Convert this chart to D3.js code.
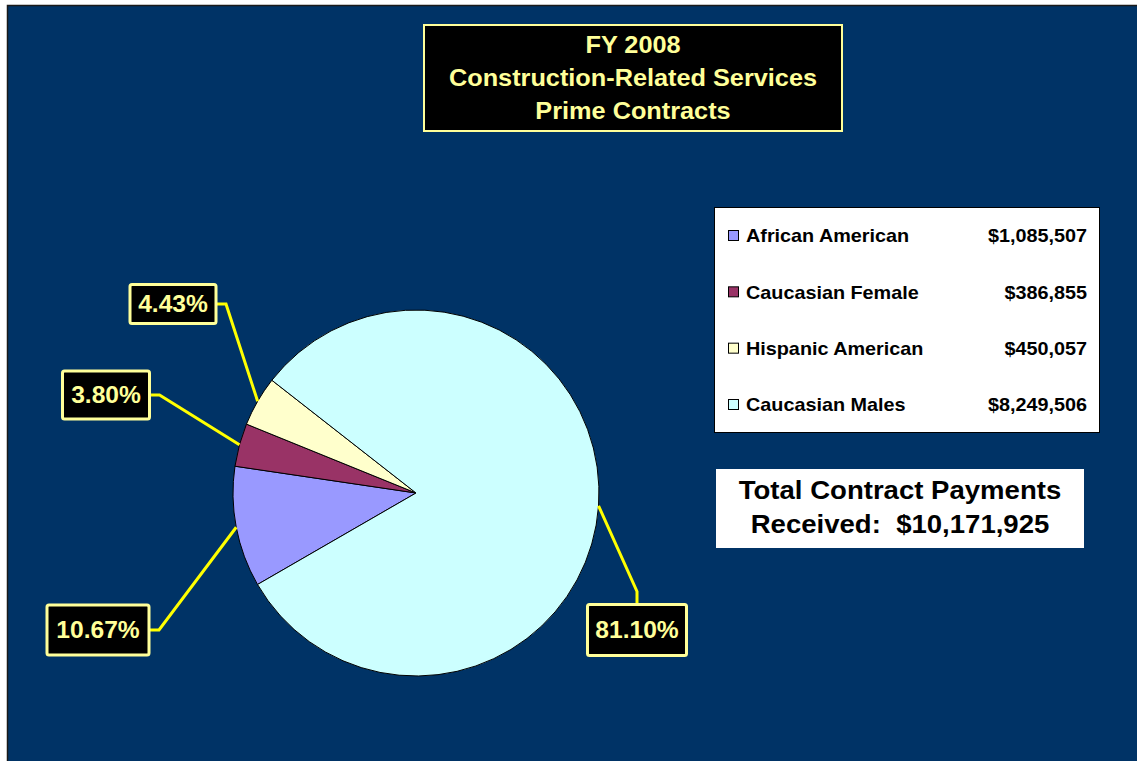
<!DOCTYPE html>
<html>
<head>
<meta charset="utf-8">
<script src="https://cdn.jsdelivr.net/npm/d3@7"></script>
<style>
  body { margin: 0; background: #ffffff; }
  text { font-family: "Liberation Sans", Arial, sans-serif; font-weight: bold; }
</style>
</head>
<body>
<svg id="chart" width="1137" height="761"></svg>
<script>
// data
var categories = ["African American", "Caucasian Female", "Hispanic American", "Caucasian Males"];
var amounts = [1085507, 386855, 450057, 8249506];
var percentLabels = ["10.67%", "3.80%", "4.43%", "81.10%"];
var sliceColors = ["#9999FF", "#993366", "#FFFFCC", "#CCFFFF"];
var titleLines = ["FY 2008", "Construction-Related Services", "Prime Contracts"];
var totalLines = ["Total Contract Payments", "Received:  $10,171,925"];

var svg = d3.select("#chart");
var width = 1137, height = 761;

// the original renders its Arial a bit wider than Liberation Sans
function place(x, y, sx) {
    return `translate(${x},${y}) scale(${sx},1)`;
}

// navy panel
svg.append("rect")
    .attr("x", 7.5).attr("y", 5.5)
    .attr("width", width).attr("height", height)
    .attr("fill", "#003366")
    .attr("stroke", "#1a1a1a")
    .attr("stroke-width", 1.5);

// title box
var title = svg.append("g");
title.append("rect")
    .attr("x", 424).attr("y", 25)
    .attr("width", 418).attr("height", 106)
    .attr("fill", "#000000")
    .attr("stroke", "#FFFF99")
    .attr("stroke-width", 2);
title.selectAll("text")
    .data(titleLines)
    .join("text")
    .attr("transform", (d, i) => place(633, 53 + i * 33, 1.1))
    .attr("text-anchor", "middle")
    .attr("fill", "#FFFF99")
    .style("font-size", "23px")
    .text(d => d);

// pie
var cx = 416, cy = 493, radius = 183;
var startA = 240 * Math.PI / 180;

var pie = d3.pie()
    .sort(null)
    .startAngle(startA)
    .endAngle(startA + 2 * Math.PI);
var arcs = pie(amounts);
var arc = d3.arc().innerRadius(0).outerRadius(radius);

var pieG = svg.append("g").attr("transform", `translate(${cx},${cy})`);
pieG.selectAll("path")
    .data(arcs)
    .join("path")
    .attr("d", arc)
    .attr("fill", (d, i) => sliceColors[i])
    .attr("stroke", "#000000")
    .attr("stroke-width", 1);

// label boxes (layout: box centre relative to pie centre, elbow direction)
var labelLayout = [
    { x: -318, y: 137, w: 102, h: 50, side: "right" },
    { x: -310, y: -98, w: 87, h: 48, side: "right" },
    { x: -243, y: -189, w: 86, h: 39, side: "right" },
    { x: 221, y: 137, w: 99, h: 51, side: "top" }
];

var labelG = pieG.append("g");
arcs.forEach(function(a, i) {
    var lay = labelLayout[i];
    var mid = (a.startAngle + a.endAngle) / 2;
    var px = radius * Math.sin(mid), py = -radius * Math.cos(mid);
    var pts;
    if (lay.side === "right") {
        var ex = lay.x + lay.w / 2;
        pts = [[px, py], [ex + 10, lay.y], [ex, lay.y]];
    } else {
        var ey = lay.y - lay.h / 2;
        pts = [[px, py], [lay.x, ey - 13], [lay.x, ey]];
    }
    labelG.append("path")
        .attr("d", d3.line()(pts))
        .attr("fill", "none")
        .attr("stroke", "#FFFF00")
        .attr("stroke-width", 3);
    labelG.append("rect")
        .attr("x", lay.x - lay.w / 2).attr("y", lay.y - lay.h / 2)
        .attr("width", lay.w).attr("height", lay.h)
        .attr("rx", 2)
        .attr("fill", "#000000")
        .attr("stroke", "#FFFF99")
        .attr("stroke-width", 3);
    labelG.append("text")
        .attr("transform", place(lay.x, lay.y, 1.07))
        .attr("dy", "0.36em")
        .attr("text-anchor", "middle")
        .attr("fill", "#FFFF99")
        .style("font-size", "23px")
        .text(percentLabels[i]);
});

// legend
var legend = svg.append("g");
legend.append("rect")
    .attr("x", 714.5).attr("y", 207.5)
    .attr("width", 385).attr("height", 225)
    .attr("fill", "#ffffff")
    .attr("stroke", "#000000")
    .attr("stroke-width", 1);

var fmt = d3.format("$,");
var rowY = d3.scalePoint().domain(categories).range([236, 405]);
var rows = legend.selectAll(".row")
    .data(categories)
    .join("g")
    .attr("class", "row")
    .attr("transform", d => `translate(0,${rowY(d)})`);
rows.append("rect")
    .attr("x", 728.5).attr("y", -5.5)
    .attr("width", 10).attr("height", 10)
    .attr("fill", (d, i) => sliceColors[i])
    .attr("stroke", "#000000")
    .attr("stroke-width", 1);
rows.append("text")
    .attr("transform", place(746, 0, 1.1))
    .attr("dy", "0.36em")
    .attr("fill", "#000000")
    .style("font-size", "18px")
    .text(d => d);
rows.append("text")
    .attr("transform", place(1087, 0, 1.1))
    .attr("dy", "0.36em")
    .attr("text-anchor", "end")
    .attr("fill", "#000000")
    .style("font-size", "18px")
    .text((d, i) => fmt(amounts[i]));

// total box
var total = svg.append("g");
total.append("rect")
    .attr("x", 716).attr("y", 469)
    .attr("width", 368).attr("height", 79)
    .attr("fill", "#ffffff");
total.selectAll("text")
    .data(totalLines)
    .join("text")
    .attr("transform", (d, i) => place(900, 499 + i * 34, 1.06))
    .attr("text-anchor", "middle")
    .attr("fill", "#000000")
    .style("font-size", "26px")
    .style("white-space", "pre")
    .attr("xml:space", "preserve")
    .text(d => d);
</script>
</body>
</html>
